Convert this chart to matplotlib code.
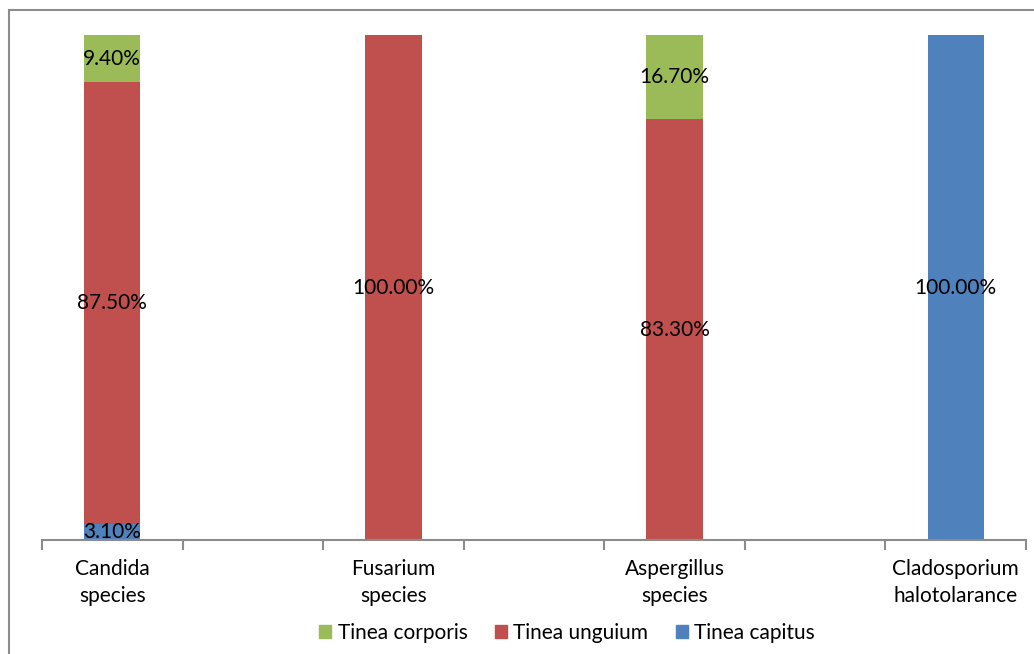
import matplotlib.pyplot as plt
from matplotlib.patches import Rectangle
import numpy as np

categories = ["Candida\nspecies", "Fusarium\nspecies", "Aspergillus\nspecies", "Cladosporium\nhalotolarance"]
capitus = [3.1, 0.0, 0.0, 100.0]
unguium = [87.5, 100.0, 83.3, 0.0]
corporis = [9.4, 0.0, 16.7, 0.0]

colors = {"Tinea corporis": "#9BBB59", "Tinea unguium": "#C0504D", "Tinea capitus": "#4F81BD"}

plt.rcParams['font.family'] = ['Lato', 'DejaVu Sans']

fig = plt.figure(figsize=(10.34, 6.54), dpi=100)
W, H = 1034, 654
ax = fig.add_axes([42 / W, 1 - 540 / H, (1026 - 42) / W, (540 - 35) / H])

# outer chart border
fig.patches.append(Rectangle((9 / W, -0.1), 1.2, 1 - 10 / H + 0.1, transform=fig.transFigure,
                             fill=False, edgecolor="#8c8c8c", linewidth=1.5))

x = np.arange(len(categories)) * 2
bw = 0.4
bottom = np.zeros(len(categories))
series = [("Tinea capitus", capitus), ("Tinea unguium", unguium), ("Tinea corporis", corporis)]
for name, vals in series:
    vals = np.array(vals)
    ax.bar(x, vals, bw, bottom=bottom, color=colors[name], label=name)
    for xi, b, v in zip(x, bottom, vals):
        if v > 0:
            ax.text(xi, b + v / 2, f"{v:.2f}%", ha="center", va="center", fontsize=15, color="black")
    bottom += vals

ax.set_xlim(-0.5, 6.5)
ax.set_ylim(0, 100)
for s in ["left", "right", "top"]:
    ax.spines[s].set_visible(False)
ax.spines["bottom"].set_color("#8c8c8c")
ax.spines["bottom"].set_linewidth(1.5)
ax.set_yticks([])
ax.set_xticks(np.arange(-0.5, 7, 1.0))
ax.set_xticklabels([])
ax.tick_params(axis="x", length=7, width=1.5, color="#8c8c8c")
for xi, lab in zip(x, categories):
    ax.text(xi, -3.8, lab, ha="center", va="top", fontsize=15, linespacing=1.4,
            transform=ax.transData, clip_on=False)

handles = [Rectangle((0, 0), 1, 1, color=colors[n]) for n in ["Tinea corporis", "Tinea unguium", "Tinea capitus"]]
fig.legend(handles, ["Tinea corporis", "Tinea unguium", "Tinea capitus"], loc="center",
           bbox_to_anchor=(567 / W, 1 - 633 / H), ncol=3, frameon=False, fontsize=15,
           handlelength=0.6, handleheight=0.6, handletextpad=0.3, columnspacing=1.3)

fig.savefig("out.png", dpi=100)
